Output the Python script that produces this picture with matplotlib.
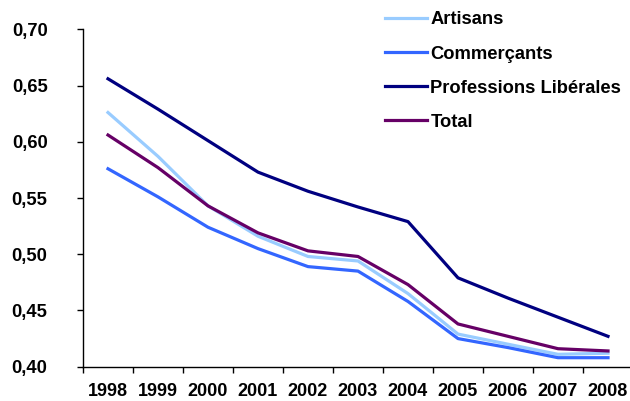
import matplotlib
matplotlib.use('Agg')
import matplotlib.pyplot as plt
from matplotlib.ticker import FixedLocator, FuncFormatter

annees = ['1998', '1999', '2000', '2001', '2002', '2003', '2004', '2005', '2006', '2007', '2008']

artisans     = [0.626, 0.587, 0.543, 0.516, 0.498, 0.494, 0.465, 0.429, 0.420, 0.411, 0.412]
commercants  = [0.576, 0.551, 0.524, 0.505, 0.489, 0.485, 0.458, 0.425, 0.417, 0.408, 0.408]
liberales    = [0.656, 0.629, 0.601, 0.573, 0.556, 0.542, 0.529, 0.479, 0.461, 0.444, 0.427]
total        = [0.606, 0.577, 0.543, 0.519, 0.503, 0.498, 0.473, 0.438, 0.427, 0.416, 0.414]

series = [
    ('Artisans', artisans, '#99CCFF'),
    ('Commerçants', commercants, '#3366FF'),
    ('Professions Libérales', liberales, '#000080'),
    ('Total', total, '#660066'),
]

plt.rcParams['font.family'] = ['Liberation Sans', 'DejaVu Sans']

fig = plt.figure(figsize=(6.3, 4.01), dpi=100)
ax = fig.add_axes([83 / 630, 1 - 366.7 / 401, 550 / 630, (366.7 - 29.3) / 401])

x = list(range(len(annees)))
for nom, vals, couleur in series:
    ax.plot(x, vals, color=couleur, linewidth=2.3, label=nom, solid_joinstyle='round')

ax.set_xlim(-0.5, len(annees) - 0.5)
ax.set_ylim(0.40, 0.70)

for s in ['top', 'right']:
    ax.spines[s].set_visible(False)
ax.spines['left'].set_linewidth(1.0)
ax.spines['bottom'].set_linewidth(1.0)

ax.set_yticks([0.40, 0.45, 0.50, 0.55, 0.60, 0.65, 0.70])
ax.yaxis.set_major_formatter(FuncFormatter(lambda v, p: f'{v:.2f}'.replace('.', ',')))
ax.tick_params(axis='y', direction='out', length=4.5, width=1, pad=21,
               labelsize=13.2)
for lab in ax.get_yticklabels():
    lab.set_fontweight('bold')

ax.set_xticks(x)
ax.set_xticklabels(annees, fontweight='bold')
ax.tick_params(axis='x', which='major', length=0, pad=12, labelsize=13)
ax.xaxis.set_minor_locator(FixedLocator([i - 0.5 for i in range(len(annees) + 1)]))
ax.tick_params(axis='x', which='minor', direction='out', length=4.5, width=1)

leg = ax.legend(loc='upper left', bbox_to_anchor=(379 / 630, 1 - 6 / 401), bbox_transform=fig.transFigure,
                frameon=False, prop={'weight': 'bold', 'size': 13.2},
                handlelength=2.3, handletextpad=0.2, labelspacing=0.93,
                borderaxespad=0.0, borderpad=0.3)

fig.savefig('out.png', dpi=100)
